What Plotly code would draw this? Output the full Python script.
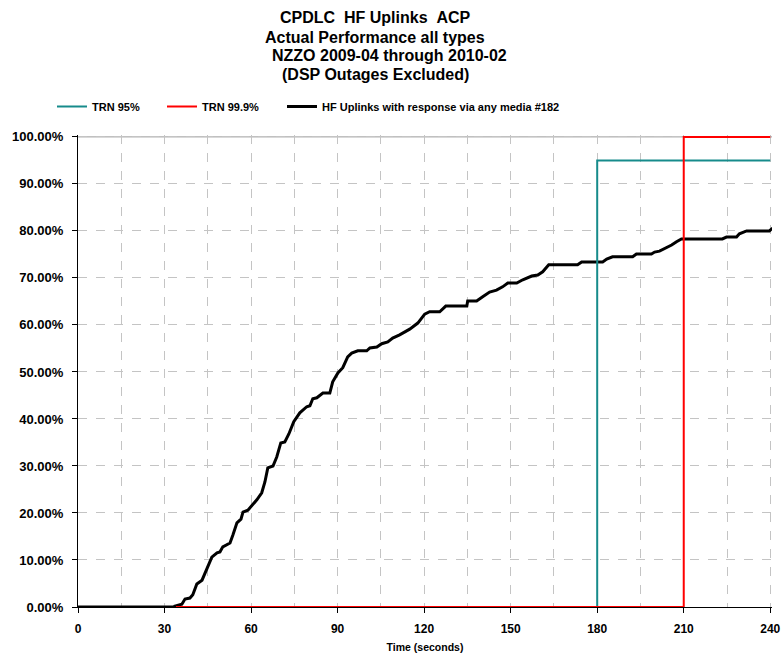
import plotly.graph_objects as go

# ---- data ----
hf_time = [0, 33.6, 33.6, 36.0, 37.1, 38.8, 39.8, 41.2, 43.0, 44.0, 45.0, 46.4, 48.2, 49.2, 50.2,
           52.7, 53.7, 55.1, 56.5, 57.2, 58.9, 60.6, 62.0, 63.7, 64.8, 65.8, 67.6, 68.9, 70.3,
           71.7, 73.1, 74.8, 76.9, 79.3, 80.4, 81.4, 82.8, 84.9, 87.3, 88.3, 90.1, 91.8, 93.5,
           94.9, 97.0, 100.1, 101.2, 103.6, 105.3, 107.4, 109.1, 111.5, 115.0, 117.8, 120.2,
           121.9, 125.4, 127.5, 134.8, 135.1, 138.2, 140.3, 142.7, 145.1, 147.2, 149.0, 152.1,
           154.2, 157.3, 159.4, 161.1, 163.2, 173.2, 174.6, 181.9, 183.3, 185.3, 192.3, 193.6,
           198.8, 199.9, 201.6, 204.0, 205.8, 207.5, 209.2, 223.4, 224.8, 228.3, 229.3, 231.8,
           239.7, 240.8]
hf_pct = [0.0, 0.0, 0.2, 0.6, 1.7, 1.9, 2.6, 4.9, 5.7, 7.2, 8.9, 10.6, 11.5, 11.7, 12.8,
          13.6, 15.3, 17.9, 18.7, 20.2, 20.6, 21.7, 22.8, 24.3, 26.6, 29.6, 30.0, 31.9, 34.9,
          35.1, 36.8, 39.4, 41.3, 42.6, 42.8, 44.3, 44.5, 45.5, 45.5, 47.9, 49.8, 50.9, 53.2,
          54.0, 54.5, 54.5, 55.1, 55.3, 56.0, 56.4, 57.2, 57.9, 59.1, 60.4, 62.3,
          62.8, 62.8, 64.0, 64.0, 65.1, 65.1, 66.0, 67.0, 67.4, 68.1, 68.9, 68.9,
          69.6, 70.4, 70.6, 71.3, 72.8, 72.8, 73.4, 73.4, 74.0, 74.5, 74.5, 75.1,
          75.1, 75.5, 75.7, 76.4, 77.0, 77.7, 78.3, 78.3, 78.7, 78.7, 79.4, 80.0,
          80.0, 80.6]

trn95_time = [34, 180, 180, 240]
trn95_pct = [0, 0, 95, 95]
trn999_time = [34, 210, 210, 240]
trn999_pct = [0, 0, 100, 100]

x_ticks = [0, 30, 60, 90, 120, 150, 180, 210, 240]
y_ticks = [0, 10, 20, 30, 40, 50, 60, 70, 80, 90, 100]

title_lines = ["CPDLC\u00a0\u00a0HF Uplinks\u00a0\u00a0ACP",
               "Actual Performance all types",
               "NZZO 2009-04 through 2010-02",
               "(DSP Outages Excluded)"]
title_centers_px = [375, 375, 389, 375]
title_rows_px = [17.5, 37, 56, 75]

SANS = "Liberation Sans, Arial, sans-serif"

# plot area in pixels (page 783x659)
PL, PR, PT, PB = 78, 772, 135, 607

fig = go.Figure()
fig.add_trace(go.Scatter(x=hf_time, y=[v / 100 for v in hf_pct], mode="lines",
                         name="HF Uplinks with response via any media #182",
                         line=dict(color="#000000", width=3), legend="legend3",
                         cliponaxis=False))
fig.add_trace(go.Scatter(x=trn95_time, y=[v / 100 for v in trn95_pct], mode="lines",
                         name="TRN 95%", line=dict(color="#168b8b", width=2),
                         legend="legend", cliponaxis=False))
fig.add_trace(go.Scatter(x=trn999_time, y=[v / 100 for v in trn999_pct], mode="lines",
                         name="TRN 99.9%", line=dict(color="#ff0000", width=2),
                         legend="legend2", cliponaxis=False))


def leg(text_left):
    return dict(orientation="h", xref="container", yref="container",
                x=(text_left - 40) / 783, xanchor="left", y=1 - 92 / 659, yanchor="top",
                font=dict(family=SANS, size=11, color="black", weight="bold"),
                bgcolor="rgba(0,0,0,0)", borderwidth=0)


annotations = []
for txt, cx, cy in zip(title_lines, title_centers_px, title_rows_px):
    annotations.append(dict(text=txt, xref="paper", yref="paper",
                            x=(cx - PL) / (PR - PL), y=(PB - cy) / (PB - PT),
                            xanchor="center", yanchor="middle", showarrow=False,
                            font=dict(family=SANS, size=16, color="black", weight="bold")))

grid_col = "#c4c4c4"
fig.update_layout(
    width=783, height=659,
    margin=dict(l=PL, r=783 - PR, t=PT, b=659 - PB),
    paper_bgcolor="white", plot_bgcolor="white",
    annotations=annotations,
    legend=leg(92), legend2=leg(202), legend3=leg(322),
    showlegend=True,
    xaxis=dict(range=[0, 240.6], tickvals=x_ticks, ticktext=[str(v) for v in x_ticks],
               automargin=False,
               showgrid=True, gridcolor=grid_col, griddash="dash", gridwidth=1,
               minor=dict(dtick=15, tick0=0, showgrid=True, gridcolor=grid_col,
                          griddash="dash", gridwidth=1),
               showline=True, linecolor="black", linewidth=1,
               ticks="outside", ticklen=5, tickcolor="black", ticklabelstandoff=6,
               zeroline=False,
               tickfont=dict(family=SANS, size=12, color="black", weight="bold"),
               title=dict(text="Time (seconds)", standoff=8,
                          font=dict(family=SANS, size=10.5, color="black", weight="bold"))),
    yaxis=dict(range=[0, 1.004], tickvals=[v / 100 for v in y_ticks],
               tickformat=".2%", automargin=False,
               showgrid=True, gridcolor=grid_col, griddash="dash", gridwidth=1,
               showline=True, linecolor="black", linewidth=1,
               ticks="outside", ticklen=5, tickcolor="black", ticklabelstandoff=6,
               zeroline=False,
               tickfont=dict(family=SANS, size=13, color="black", weight="bold")),
    shapes=[dict(type="line", xref="paper", yref="y", x0=0, x1=1, y0=1, y1=1,
                 line=dict(color="#9a9a9a", width=1), layer="below")],
)

fig.write_html("out.html")
